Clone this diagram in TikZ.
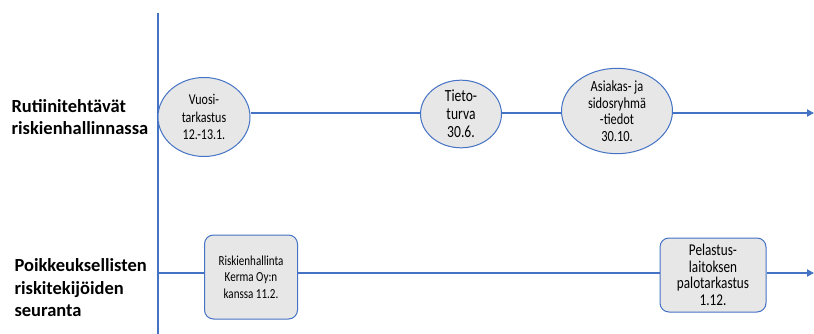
\documentclass[tikz,border=0pt]{standalone}
\usepackage{fontspec}
\setmainfont{Carlito}
\newfontfamily\narrowfont[FakeStretch=0.8]{Carlito}
\usetikzlibrary{shapes.geometric,arrows.meta}
\definecolor{axisblue}{HTML}{4472C4}
\definecolor{nodefill}{HTML}{E7E7E7}
\tikzset{
  axisline/.style={draw=axisblue,line width=2.8pt},
  evt/.style={ellipse,draw=axisblue,fill=nodefill,line width=1pt,inner sep=0pt,align=center},
  evtbox/.style={rectangle,rounded corners=9pt,draw=axisblue,fill=nodefill,line width=1pt,inner sep=0pt,align=center},
  lanelabel/.style={anchor=west,align=left,font=\fontsize{18.5}{22.5}\selectfont\bfseries}
}
\newcommand{\nfs}[2]{\narrowfont\fontsize{#1}{#2}\selectfont}
\begin{document}
\begin{tikzpicture}[x=1pt,y=-1pt]
\useasboundingbox (0,0) rectangle (814,334);
% axis
\coordinate (axtop) at (158,13);
\coordinate (axbot) at (158,334);
\draw[axisline] (axtop) -- (axbot);
% lane labels
\node[lanelabel] (l1) at (8,117) {Rutiinitehtävät\\riskienhallinnassa};
\node[lanelabel] (l2) at (11,288) {Poikkeuksellisten\\riskitekijöiden\\seuranta};
% top lane
\coordinate (t0) at (158,113);
\coordinate (tend) at (814,113);
\node[evt,minimum width=92pt,minimum height=79pt,font=\nfs{15}{17.5}] (v1) at (204,117) {Vuosi-\\tarkastus\\12.-13.1.};
\node[evt,minimum width=81pt,minimum height=65pt,font=\nfs{17}{18}] (v2) at (461,114) {Tieto-\\turva\\30.6.};
\node[evt,minimum width=111pt,minimum height=77pt,font=\nfs{15.5}{16.5}] (v3) at (617,111) {Asiakas- ja\\sidosryhmä\\-tiedot\\30.10.};
% bottom lane
\coordinate (b0) at (158,273);
\coordinate (bend) at (814,273);
\node[evtbox,minimum width=93pt,minimum height=84pt,font=\nfs{13.8}{16.5}] (r1) at (251,277) {Riskienhallinta\\Kerma Oy:n\\kanssa 11.2.};
\node[evtbox,minimum width=106pt,minimum height=74pt,font=\nfs{16.5}{16.5}] (r2) at (713,275) {Pelastus-\\laitoksen\\palotarkastus\\1.12.};
% connectors
\draw[axisline] (v1.east |- t0) -- (v2.west |- t0);
\draw[axisline] (v2.east |- t0) -- (v3.west |- t0);
\draw[axisline,-{Triangle[length=7pt,width=7pt]}] (v3.east |- t0) -- (tend);
\draw[axisline] (b0) -- (r1.west |- b0);
\draw[axisline] (r1.east |- b0) -- (r2.west |- b0);
\draw[axisline,-{Triangle[length=7pt,width=7pt]}] (r2.east |- b0) -- (bend);
\end{tikzpicture}
\end{document}
